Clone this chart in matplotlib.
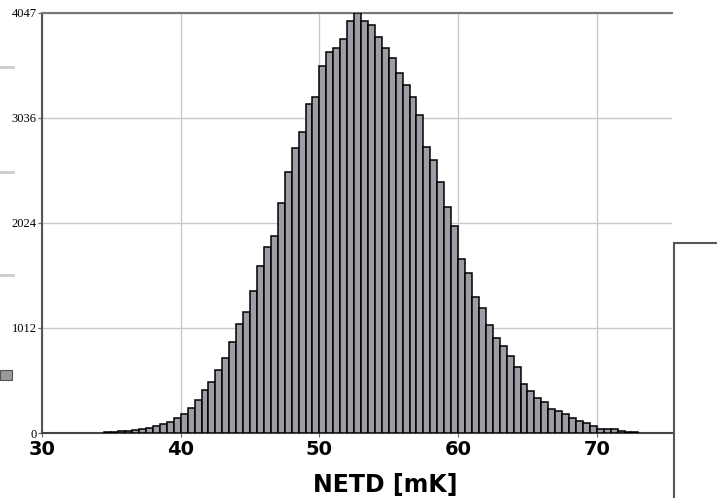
import matplotlib.pyplot as plt
from matplotlib.patches import Rectangle
from matplotlib.lines import Line2D

# histogram bins (left edges, mK) and counts
bin_left = [34.5 + 0.5 * i for i in range(77)]
counts = [8, 10, 16, 20, 27, 38, 50, 67, 87, 106,
          145, 183, 244, 320, 414, 494, 610, 725, 877, 1055,
          1165, 1368, 1609, 1795, 1898, 2219, 2518, 2749, 2900, 3167,
          3241, 3536, 3674, 3713, 3794, 3973, 4047, 3973, 3931, 3819,
          3707, 3617, 3472, 3353, 3233, 3068, 2759, 2634, 2422, 2175,
          1998, 1674, 1545, 1314, 1201, 1041, 912, 841, 745, 633,
          469, 408, 334, 300, 231, 209, 180, 144, 119, 96,
          64, 42, 40, 38, 15, 12, 10]
bin_width = 0.5

x_ticks = [30, 40, 50, 60, 70]
y_ticks = [0, 1012, 2024, 3036, 4047]

fig = plt.figure(figsize=(7.17, 4.98), dpi=100, facecolor='white')
ax = fig.add_axes([42 / 717, 65 / 498, 630 / 717, 420 / 498])

ax.bar(bin_left, counts, width=bin_width, align='edge',
       color='#9d9da5', edgecolor='black', linewidth=1.1, zorder=3)

ax.set_xlim(30, 30 + 630 / 13.87)
ax.set_ylim(0, 4047)
ax.set_xticks(x_ticks)
ax.set_yticks(y_ticks)
ax.grid(True, color='#c8c8c8', linewidth=1, zorder=0)
ax.set_axisbelow(True)

for lab in ax.get_xticklabels():
    lab.set_fontfamily('DejaVu Sans')
    lab.set_fontweight('bold')
    lab.set_fontsize(14)
for lab in ax.get_yticklabels():
    lab.set_fontfamily('Liberation Serif')
    lab.set_fontsize(9)

ax.tick_params(axis='x', length=3, color='#666666', pad=2)
ax.tick_params(axis='y', length=3, color='#666666', pad=1)

ax.spines['right'].set_visible(False)
ax.spines['left'].set_color('#555555')
ax.spines['left'].set_linewidth(1.5)
ax.spines['bottom'].set_color('#444444')
ax.spines['bottom'].set_linewidth(1.5)
ax.spines['top'].set_color('#777777')
ax.spines['top'].set_linewidth(1.5)

ax.set_xlabel('NETD [mK]', fontfamily='DejaVu Sans', fontweight='bold',
              fontsize=17)
ax.xaxis.set_label_coords((385 - 42) / 630, -0.095)

# cut-off box on the right edge
fig.patches.append(Rectangle((674 / 717, -0.01), 0.1, (498 - 243) / 498 + 0.01,
                             transform=fig.transFigure, facecolor='white',
                             edgecolor='#555555', linewidth=1.5))

# bits of neighbouring window at the left edge
for yp in [67, 172, 275]:
    fig.lines.append(Line2D([0, 13 / 717], [1 - yp / 498] * 2,
                            transform=fig.transFigure, color='#cccccc',
                            linewidth=2))
fig.patches.append(Rectangle((0, 1 - 380 / 498), 12 / 717, 10 / 498,
                             transform=fig.transFigure, facecolor='#999999',
                             edgecolor='#555555', linewidth=0.8))

fig.savefig('out.png', dpi=100)
